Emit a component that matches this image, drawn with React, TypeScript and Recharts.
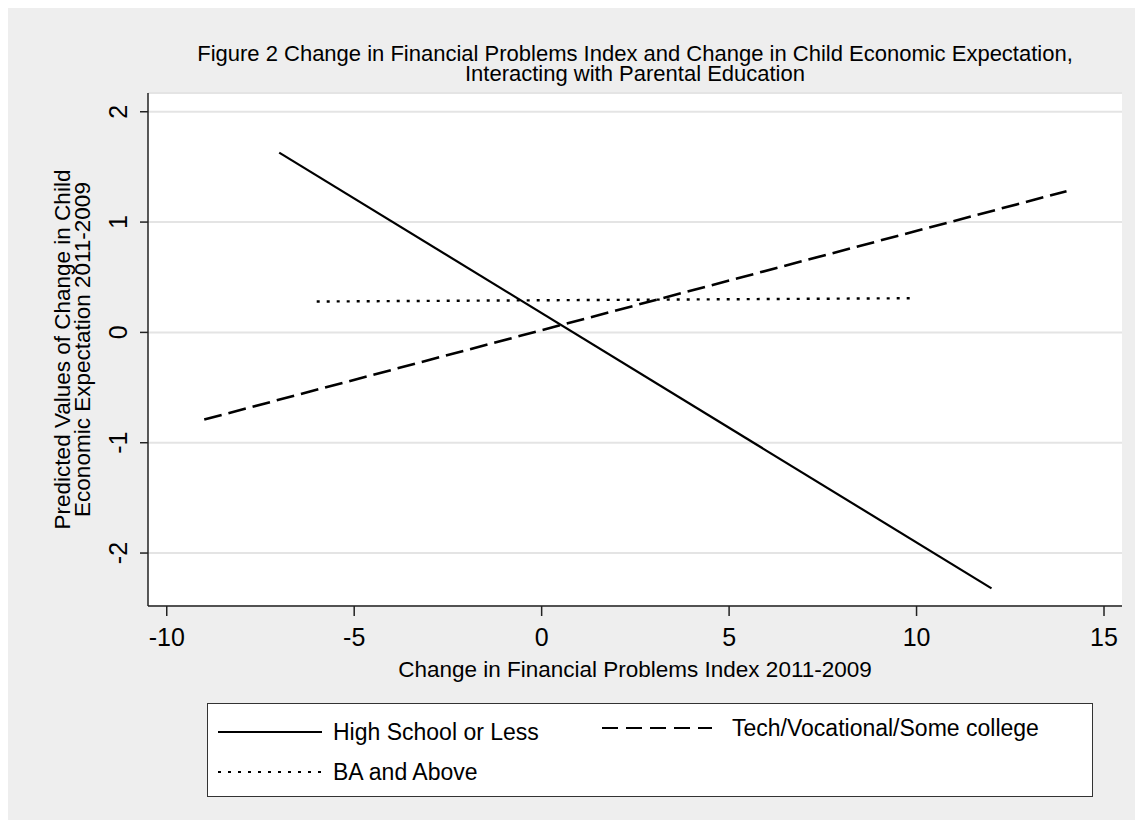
import { CartesianGrid, Label, Line, LineChart, XAxis, YAxis } from 'recharts';

// Endpoints of the three predicted-value lines
const HIGH_SCHOOL_X = [-7, 12];
const HIGH_SCHOOL_Y = [1.63, -2.32];
const TECH_X = [-9, 14];
const TECH_Y = [-0.79, 1.28];
const BA_X = [-6, 10];
const BA_Y = [0.28, 0.31];

const X_TICKS = [-10, -5, 0, 5, 10, 15];
const Y_TICKS = [-2, -1, 0, 1, 2];

const SERIES_NAMES = [
	'High School or Less',
	'Tech/Vocational/Some college',
	'BA and Above',
];

const TITLE_LINES = [
	'Figure 2 Change in Financial Problems Index and Change in Child Economic Expectation,',
	'Interacting with Parental Education',
];
const Y_LABEL_LINES = [
	'Predicted Values of Change in Child',
	'Economic Expectation 2011-2009',
];
const X_LABEL = 'Change in Financial Problems Index 2011-2009';

const toPoints = (xs: number[], ys: number[]) =>
	xs.map((x, i) => ({ x, y: ys[i] }));

const FONT = '"Liberation Sans", Arial, Helvetica, sans-serif';
const BG = '#eeeeee';
const DASH = '18 7';
const DOT = '3 7';

const XTick = ({ x, y, payload }: any) => (
	<text
		x={x}
		y={y + 19}
		textAnchor='middle'
		dominantBaseline='central'
		fontSize={25}
		fontFamily={FONT}
		fill='#000'
	>
		{payload.value}
	</text>
);

const YTick = ({ x, y, payload }: any) => (
	<text
		x={x - 20}
		y={y}
		transform={`rotate(-90, ${x - 20}, ${y})`}
		textAnchor='middle'
		dominantBaseline='central'
		fontSize={25}
		fontFamily={FONT}
		fill='#000'
	>
		{payload.value}
	</text>
);

const LegendSample = ({ dash, width = 104 }: { dash?: string; width?: number }) => (
	<svg width={width} height={10} style={{ display: 'block' }}>
		<line
			x1={0}
			y1={5}
			x2={width}
			y2={5}
			stroke='#000'
			strokeWidth={2.2}
			strokeDasharray={dash}
		/>
	</svg>
);

const App = () => {
	return (
		<div
			style={{
				position: 'relative',
				width: 1127,
				height: 812,
				background: BG,
				fontFamily: FONT,
			}}
		>
			<div
				style={{
					position: 'absolute',
					left: 100,
					width: 1054,
					top: 36,
					textAlign: 'center',
					fontSize: 22,
					lineHeight: '20px',
					color: '#000',
				}}
			>
				{TITLE_LINES.map((t) => (
					<div key={t}>{t}</div>
				))}
			</div>
			<LineChart
				width={1127}
				height={812}
				margin={{ top: 85, right: 13, left: 80, bottom: 154 }}
			>
				<CartesianGrid
					horizontal
					vertical={false}
					fill='#ffffff'
					stroke='#e4e4e4'
					strokeWidth={2}
				/>
				<XAxis
					dataKey='x'
					type='number'
					domain={[-10.5, 15.48]}
					ticks={X_TICKS}
					tick={<XTick />}
					tickSize={10}
					tickMargin={2}
					height={60}
					stroke='#222'
					strokeWidth={1.5}
					tickLine={{ stroke: '#222' }}
					allowDataOverflow
				>
					<Label
						content={({ viewBox }: any) => (
							<text
								x={viewBox.x + viewBox.width / 2}
								y={viewBox.y + 63}
								textAnchor='middle'
								dominantBaseline='central'
								fontSize={22.5}
								fontFamily={FONT}
								fill='#000'
							>
								{X_LABEL}
							</text>
						)}
					/>
				</XAxis>
				<YAxis
					type='number'
					domain={[-2.48, 2.17]}
					ticks={Y_TICKS}
					tick={<YTick />}
					tickSize={8}
					tickMargin={2}
					width={60}
					stroke='#222'
					strokeWidth={1.5}
					tickLine={{ stroke: '#222' }}
					allowDataOverflow
				>
					<Label
						content={({ viewBox }: any) => {
							const cy = viewBox.y + viewBox.height / 2;
							return (
								<g>
									{Y_LABEL_LINES.map((t, i) => {
										const cx = 54 + i * 20;
										return (
											<text
												key={t}
												x={cx}
												y={cy}
												transform={`rotate(-90, ${cx}, ${cy})`}
												textAnchor='middle'
												dominantBaseline='central'
												fontSize={22.5}
												fontFamily={FONT}
												fill='#000'
											>
												{t}
											</text>
										);
									})}
								</g>
							);
						}}
					/>
				</YAxis>
				<Line
					data={toPoints(HIGH_SCHOOL_X, HIGH_SCHOOL_Y)}
					dataKey='y'
					name={SERIES_NAMES[0]}
					type='linear'
					stroke='#000'
					strokeWidth={2.2}
					dot={false}
					activeDot={false}
					isAnimationActive={false}
				/>
				<Line
					data={toPoints(TECH_X, TECH_Y)}
					dataKey='y'
					name={SERIES_NAMES[1]}
					type='linear'
					stroke='#000'
					strokeWidth={2.6}
					strokeDasharray={DASH}
					dot={false}
					activeDot={false}
					isAnimationActive={false}
				/>
				<Line
					data={toPoints(BA_X, BA_Y)}
					dataKey='y'
					name={SERIES_NAMES[2]}
					type='linear'
					stroke='#000'
					strokeWidth={2.4}
					strokeDasharray={DOT}
					dot={false}
					activeDot={false}
					isAnimationActive={false}
				/>
			</LineChart>
			<div
				style={{
					position: 'absolute',
					left: 199,
					top: 695,
					width: 884,
					height: 92,
					background: '#fff',
					border: '1px solid #333',
					fontSize: 23,
					lineHeight: '26px',
					color: '#000',
				}}
			>
				<div
					style={{
						position: 'absolute',
						left: 10,
						top: 15,
						display: 'flex',
						alignItems: 'center',
					}}
				>
					<LegendSample />
					<span style={{ marginLeft: 11 }}>{SERIES_NAMES[0]}</span>
				</div>
				<div
					style={{
						position: 'absolute',
						left: 394,
						top: 11,
						display: 'flex',
						alignItems: 'center',
					}}
				>
					<LegendSample dash='16 8' width={110} />
					<span style={{ marginLeft: 20 }}>{SERIES_NAMES[1]}</span>
				</div>
				<div
					style={{
						position: 'absolute',
						left: 10,
						top: 55,
						display: 'flex',
						alignItems: 'center',
					}}
				>
					<LegendSample dash={DOT} />
					<span style={{ marginLeft: 11 }}>{SERIES_NAMES[2]}</span>
				</div>
			</div>
		</div>
	);
};

export default App;
